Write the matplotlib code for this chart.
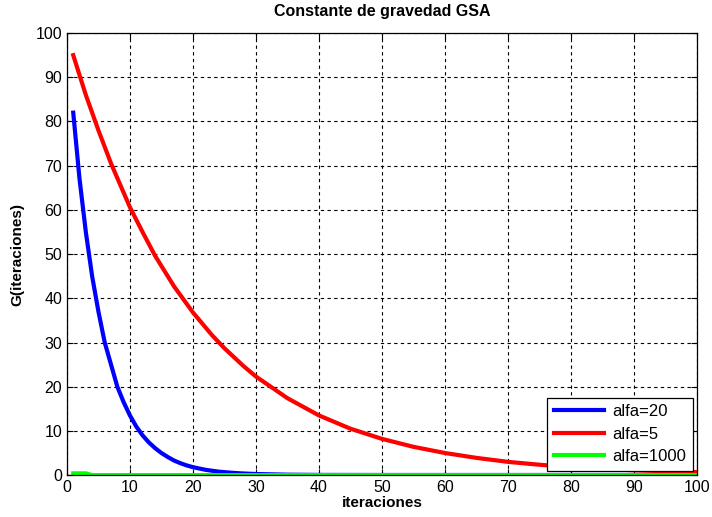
import matplotlib
matplotlib.use("Agg")
import matplotlib.pyplot as plt

plt.rcParams["font.family"] = ["Liberation Sans", "DejaVu Sans"]

# G(t) read at selected iterations for each alfa
iter_a20 = [1, 2, 3, 4, 5, 6, 7, 8, 9, 10, 11, 12, 13, 14, 15, 16, 17, 18,
            19, 20, 22, 24, 26, 28, 30, 35, 40, 50, 60, 80, 100]
g_a20 = [82, 67, 55, 45, 37, 30, 25, 20, 16.5, 13.5, 11, 9, 7.4, 6.1, 5,
         4.1, 3.3, 2.7, 2.2, 1.8, 1.2, 0.8, 0.55, 0.37, 0.25, 0.1, 0.05,
         0.03, 0.03, 0.03, 0.03]

iter_a5 = [1, 3, 5, 7, 10, 12, 14, 17, 20, 23, 25, 28, 30, 35, 40, 45, 50,
           55, 60, 65, 70, 75, 80, 85, 90, 95, 100]
g_a5 = [95, 86, 78, 70.5, 60.6, 55, 49.6, 42.7, 36.8, 31.7, 28.7, 24.7,
        22.3, 17.4, 13.5, 10.5, 8.2, 6.4, 5, 3.9, 3, 2.35, 1.8, 1.4, 1.1,
        0.87, 0.67]

iter_a1000 = [1, 3, 4, 100]
g_a1000 = [0.4, 0.4, 0.0, 0.0]

fig = plt.figure(figsize=(7.12, 5.17), dpi=100)
ax = fig.add_axes([0.094, 0.081, 0.885, 0.855])

ax.plot(iter_a20, g_a20, color="#0000ff", lw=3, label="alfa=20")
ax.plot(iter_a5, g_a5, color="#ff0000", lw=3, label="alfa=5")
ax.plot(iter_a1000, g_a1000, color="#00ff00", lw=3, label="alfa=1000")

ax.set_xlim(0, 100)
ax.set_ylim(0, 100)
ax.set_xticks(range(0, 101, 10))
ax.set_yticks(range(0, 101, 10))
ax.grid(True, color="black", linestyle=(0, (3, 3)), linewidth=0.8)
ax.tick_params(direction="in", top=True, right=True, labelsize=11.5, length=4)
for sp in ax.spines.values():
    sp.set_linewidth(0.9)

ax.set_title("Constante de gravedad GSA", fontsize=11.5, fontweight="bold", pad=12)
ax.set_xlabel("iteraciones", fontsize=11, fontweight="bold", labelpad=1)
ax.set_ylabel("G(iteraciones)", fontsize=11, fontweight="bold", labelpad=8)

leg = ax.legend(loc="lower right", fontsize=12, fancybox=False, framealpha=1,
                edgecolor="black", handlelength=3.0, borderaxespad=0.25,
                labelspacing=0.45, handletextpad=0.5)
leg.get_frame().set_linewidth(0.9)

fig.savefig("out.png", dpi=100)
